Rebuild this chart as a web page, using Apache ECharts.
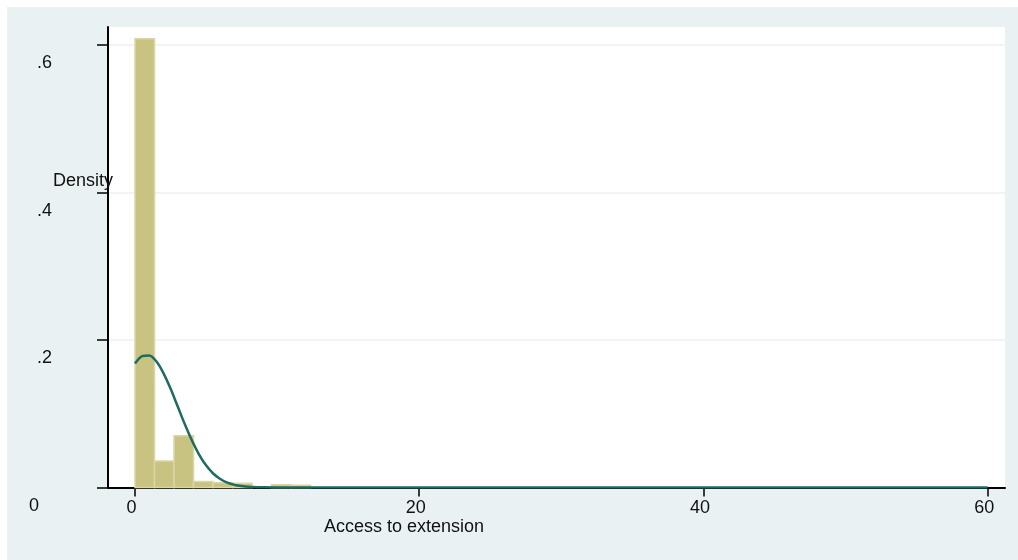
<!DOCTYPE html>
<html>
<head>
<meta charset="utf-8">
<title>Access to extension – density histogram</title>
<script src="https://cdn.jsdelivr.net/npm/echarts@6/dist/echarts.min.js"></script>
<style>
  html, body { margin: 0; padding: 0; background: #ffffff; }
  #frame { position: absolute; left: 7px; top: 7px; width: 1011px; height: 553px; background: #EAF1F3; }
  #chart { position: absolute; left: 0; top: 0; width: 1018px; height: 560px; }
</style>
</head>
<body>
<div id="frame"></div>
<div id="chart"></div>
<script>
// Histogram bins: left edge, right edge and density of each non-empty bin
const binLeft    = [0,     1.373, 2.746, 4.119, 5.492, 6.865, 9.611, 10.984];
const binRight   = [1.373, 2.746, 4.119, 5.492, 6.865, 8.238, 10.984, 12.357];
const binDensity = [0.608, 0.036, 0.070, 0.008, 0.0065, 0.0057, 0.0038, 0.003];

// Fitted normal density curve (x, density)
const curveX = [0, 0.5, 1, 1.5, 2, 2.5, 3, 3.5, 4, 4.5, 5, 5.5, 6, 6.5, 7, 7.5, 8, 9, 10, 12, 15, 20, 30, 40, 50, 60];
const curveY = [0.168, 0.178, 0.179, 0.171, 0.155, 0.134, 0.110, 0.086, 0.064, 0.045, 0.030, 0.019, 0.0116, 0.0066, 0.0036, 0.0019, 0.0009, 0.0002, 0, 0, 0, 0, 0, 0, 0, 0];

// Axis ticks and their printed labels
const xTickValues = [0, 20, 40, 60];
const xTickLabels = ['0', '20', '40', '60'];
const yTickValues = [0, 0.2, 0.4, 0.6];
const yTickLabels = ['0', '.2', '.4', '.6'];

const xTitle = 'Access to extension';
const yTitle = 'Density';

const FONT = '"Liberation Sans", Arial, Helvetica, sans-serif';
const INK = '#111111';
const BG = '#EAF1F3';

const barData = binLeft.map((l, i) => [l, binRight[i], binDensity[i]]);
const curveData = curveX.map((x, i) => [x, curveY[i]]);

const chart = echarts.init(document.getElementById('chart'), null, { renderer: 'canvas' });

chart.setOption({
  backgroundColor: 'transparent',
  animation: false,
  grid: {
    left: 108, right: 13, top: 27, bottom: 72.5,
    show: true, backgroundColor: '#ffffff', borderWidth: 0
  },
  xAxis: {
    type: 'value',
    min: -1.9, max: 61.22,
    axisLine: { show: true, onZero: false, lineStyle: { color: '#000', width: 2 } },
    axisTick: { show: true, customValues: xTickValues, length: 9, lineStyle: { color: '#000', width: 1.5 } },
    axisLabel: {
      customValues: xTickValues,
      formatter: v => xTickLabels[xTickValues.indexOf(v)],
      fontFamily: FONT, fontSize: 18, color: INK,
      margin: 12, padding: [0, 7, 0, 0]
    },
    splitLine: { show: false }
  },
  yAxis: {
    type: 'value',
    min: 0, max: 0.624,
    axisLine: { show: true, onZero: false, lineStyle: { color: '#000', width: 2 } },
    axisTick: { show: true, customValues: yTickValues, length: 11, lineStyle: { color: '#000', width: 1.5 } },
    axisLabel: {
      customValues: yTickValues,
      formatter: v => {
        const t = yTickLabels[yTickValues.indexOf(v)];
        return v === 0 ? '{z|' + t + '}' : '{n|' + t + '}';
      },
      rich: {
        n: { fontFamily: FONT, fontSize: 18, color: INK },
        z: { fontFamily: FONT, fontSize: 18, color: INK, padding: [0, 13, 0, 0] }
      },
      align: 'right', verticalAlign: 'top',
      margin: 56, padding: [9.5, 0, 0, 0]
    },
    splitLine: { show: true, lineStyle: { color: BG, width: 1.5 } }
  },
  graphic: [
    {
      type: 'text', left: 324, top: 518.5, z: 10,
      style: { text: xTitle, font: '18px ' + FONT, fill: INK }
    },
    {
      type: 'text', left: 53, top: 172, z: 10,
      style: { text: yTitle, font: '18px ' + FONT, fill: INK }
    }
  ],
  series: [
    {
      type: 'custom',
      data: barData,
      z: 2,
      renderItem: (params, api) => {
        const top = api.coord([api.value(0), api.value(2)]);
        const base = api.coord([api.value(1), 0]);
        return {
          type: 'rect',
          shape: { x: top[0], y: top[1], width: base[0] - top[0], height: base[1] - top[1] },
          style: { fill: '#C9C381', stroke: '#DAD6A6', lineWidth: 1.5 }
        };
      }
    },
    {
      type: 'line',
      data: curveData,
      smooth: 0.3,
      showSymbol: false,
      z: 3,
      lineStyle: { color: '#1E6B60', width: 2.5 }
    }
  ]
});
</script>
</body>
</html>
